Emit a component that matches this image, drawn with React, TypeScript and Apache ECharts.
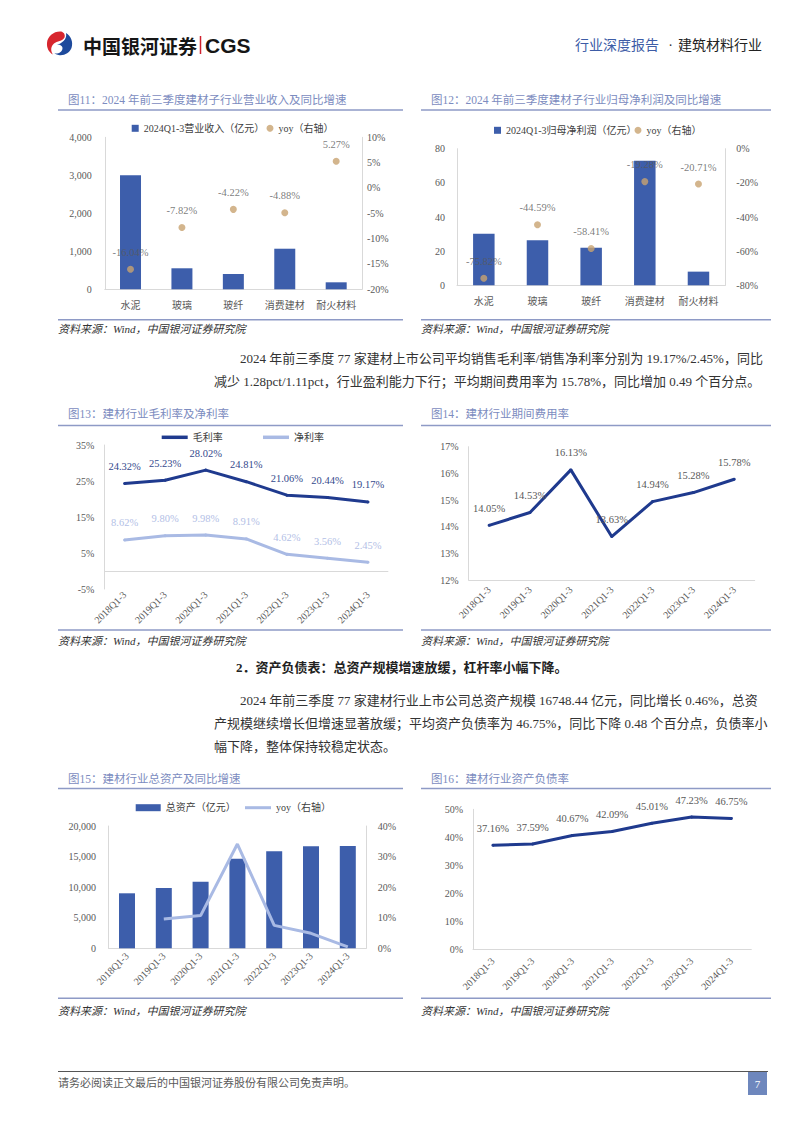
import React, { useEffect, useRef } from 'react';
import * as echarts from 'echarts';

// ---------------- data ----------------
const subIndustries = ['水泥', '玻璃', '玻纤', '消费建材', '耐火材料'];
const revenue = [3000, 553, 403, 1068, 184];
const revenueYoy = [-16.04, -7.82, -4.22, -4.88, 5.27];
const netProfit = [30.2, 26.4, 22.0, 73.0, 8.0];
const netProfitYoy = [-75.82, -44.59, -58.41, -19.28, -20.71];

const periods = ['2018Q1-3', '2019Q1-3', '2020Q1-3', '2021Q1-3', '2022Q1-3', '2023Q1-3', '2024Q1-3'];
const grossMargin = [24.32, 25.23, 28.02, 24.81, 21.06, 20.44, 19.17];
const netMargin = [8.62, 9.8, 9.98, 8.91, 4.62, 3.56, 2.45];
const expenseRatio = [14.05, 14.53, 16.13, 13.63, 14.94, 15.28, 15.78];
const totalAssets = [8994, 9861, 10891, 14652, 15863, 16672, 16748.44];
const totalAssetsYoy = [null, 9.6, 10.7, 34.1, 7.5, 4.9, 0.46];
const debtRatio = [37.16, 37.59, 40.67, 42.09, 45.01, 47.23, 46.75];

const legendText: Record<string, string> = {
  c11rev: '2024Q1-3营业收入（亿元）',
  c11yoy: 'yoy（右轴）',
  c12np: '2024Q1-3归母净利润（亿元）',
  c12yoy: 'yoy（右轴）',
  gm: '毛利率',
  nm: '净利率',
  c15assets: '总资产（亿元）',
  c15yoy: 'yoy（右轴）',
};

const chartTitles = [
  '图11：2024 年前三季度建材子行业营业收入及同比增速',
  '图12：2024 年前三季度建材子行业归母净利润及同比增速',
  '图13：建材行业毛利率及净利率',
  '图14：建材行业期间费用率',
  '图15：建材行业总资产及同比增速',
  '图16：建材行业资产负债率',
];
const sourceText = '资料来源：Wind，中国银河证券研究院';

const para1 = [
  '2024 年前三季度 77 家建材上市公司平均销售毛利率/销售净利率分别为 19.17%/2.45%，同比',
  '减少 1.28pct/1.11pct，行业盈利能力下行；平均期间费用率为 15.78%，同比增加 0.49 个百分点。',
];
const heading2 = '2．资产负债表：总资产规模增速放缓，杠杆率小幅下降。';
const para2 = [
  '2024 年前三季度 77 家建材行业上市公司总资产规模 16748.44 亿元，同比增长 0.46%，总资',
  '产规模继续增长但增速显著放缓；平均资产负债率为 46.75%，同比下降 0.48 个百分点，负债率小',
  '幅下降，整体保持较稳定状态。',
];

// ---------------- styles ----------------
const FONT = "'Liberation Serif','Noto Sans CJK SC',serif";
const SANS = "'Noto Sans CJK SC','Liberation Sans',sans-serif";
const BAR = '#3D5EAB';
const NAVY = '#1F3A8E';
const LIGHT = '#A9BAE4';
const GOLD = '#C8A370';
const AXIS = '#D9D9D9';
const LBL = '#595959';
const TITLE = '#7C8CC0';
const RULE = '#8E9AC6';

const LOGO_RED = 'M15 0.5 C8 0 1.5 5 1 12 C0.6 17 3 21.5 7 23.5 C4.5 20 4.5 15.5 8 12.5 C11 10 16.5 10.5 18.5 6.5 C19.5 4 18 1.2 15 0.5 Z';
const LOGO_BLUE = 'M20 2 C25 5 27.5 11 25.5 17 C23.5 22 18 25 12.5 24 C10 23.6 8.5 22.5 8.5 22.5 C13 23 16.5 20.5 16.5 17 C16.5 14 12.5 13.5 11 13.8 C15 12.5 21.5 9 20 2 Z';
echarts.graphic.registerShape('logoRed', echarts.graphic.extendPath(LOGO_RED, {}));
echarts.graphic.registerShape('logoBlue', echarts.graphic.extendPath(LOGO_BLUE, {}));

const T = (x: number, y: number, text: string, o: any = {}) => ({
  type: 'text',
  x,
  y,
  silent: true,
  style: {
    text,
    fill: o.fill ?? '#333',
    fontSize: o.size ?? 13,
    fontFamily: o.family ?? FONT,
    fontWeight: o.weight ?? 'normal',
    fontStyle: o.italic ? 'italic' : 'normal',
    align: o.align ?? 'left',
    textAlign: o.align ?? 'left',
    verticalAlign: 'middle',
    textVerticalAlign: 'middle',
  },
});
const Ln = (x1: number, y1: number, x2: number, y2: number, stroke: string, w: number) => ({
  type: 'line',
  silent: true,
  shape: { x1, y1, x2, y2 },
  style: { stroke, lineWidth: w },
});

const pct = (p: any) => Number(p.value).toFixed(2) + '%';
const thousands = (v: number) => v.toLocaleString('en-US');

const catAxis = (gridIndex: number, data: string[], extra: any = {}) => ({
  type: 'category',
  gridIndex,
  data,
  axisTick: { show: false },
  axisLine: { show: true, onZero: false, lineStyle: { color: AXIS, width: 1 } },
  axisLabel: { color: LBL, fontSize: 10, fontFamily: FONT, margin: 11, interval: 0, ...(extra.label || {}) },
  ...(extra.axis || {}),
});
const valAxis = (gridIndex: number, min: number, max: number, interval: number, formatter: any, position: string, margin: number) => ({
  type: 'value',
  gridIndex,
  min,
  max,
  interval,
  position,
  splitLine: { show: false },
  axisTick: { show: false },
  axisLine: { show: true, lineStyle: { color: AXIS, width: 1 } },
  axisLabel: { color: LBL, fontSize: 10, fontFamily: FONT, margin, formatter },
});

const dataLabel = (color: string, distance: number) => ({
  show: true,
  position: 'top',
  distance,
  formatter: pct,
  color,
  fontSize: 10.5,
  fontFamily: FONT,
  lineHeight: 12,
});

const legendBase = {
  padding: 0,
  selectedMode: false,
  formatter: (n: string) => legendText[n],
  itemGap: 0,
  itemStyle: { borderWidth: 0 },
  textStyle: { fontSize: 10, color: '#404040', fontFamily: FONT, lineHeight: 14 },
};

function buildGraphics() {
  const g: any[] = [];
  // header
  g.push({ type: 'logoRed', x: 46, y: 31, scaleX: 1, scaleY: 1, silent: true, style: { fill: '#D7262E' } });
  g.push({ type: 'logoBlue', x: 46, y: 31, scaleX: 1, scaleY: 1, silent: true, style: { fill: '#1E4A9C' } });
  g.push(T(83, 45, '中国银河证券', { size: 19, weight: 'bold', family: SANS, fill: '#161616' }));
  g.push(Ln(200.5, 36, 200.5, 54, '#D0212E', 1.5));
  g.push(T(205, 45, 'CGS', { size: 21, weight: 'bold', family: "'Liberation Sans',Arial,sans-serif", fill: '#161616' }));
  g.push(T(575, 45, '行业深度报告', { size: 14, fill: '#3D5CA6' }));
  g.push(T(670.5, 45, '·', { size: 14, fill: '#333', align: 'center' }));
  g.push(T(678, 45, '建筑材料行业', { size: 14, fill: '#222' }));

  // chart frames
  const cols = [
    { x0: 58, x1: 403, tx: 68 },
    { x0: 421, x1: 771, tx: 431 },
  ];
  const rows = [
    { title: 100, rule: 110, foot: 319.7, src: 328.7 },
    { title: 414.3, rule: 425.5, foot: 630, src: 640.7 },
    { title: 779, rule: 788.5, foot: 998.3, src: 1011 },
  ];
  rows.forEach((r, ri) => {
    cols.forEach((c, ci) => {
      g.push(T(c.tx, r.title, chartTitles[ri * 2 + ci], { size: 11.5, fill: TITLE }));
      g.push(Ln(c.x0, r.rule, c.x1, r.rule, RULE, 1.5));
      g.push(Ln(c.x0, r.foot, c.x1, r.foot, RULE, 1.5));
      g.push(T(c.x0, r.src, sourceText, { size: 11, italic: true, fill: '#333' }));
    });
  });

  // body text
  g.push(T(240, 358, para1[0], { size: 13, fill: '#333' }));
  g.push(T(214, 381, para1[1], { size: 13, fill: '#333' }));
  g.push(T(236, 667, heading2, { size: 13, weight: 'bold', fill: '#222' }));
  g.push(T(240, 700, para2[0], { size: 13, fill: '#333' }));
  g.push(T(214, 723, para2[1], { size: 13, fill: '#333' }));
  g.push(T(214, 746, para2[2], { size: 13, fill: '#333' }));

  // page footer
  g.push(Ln(58, 1071.5, 768, 1071.5, '#555', 1));
  g.push(T(58, 1083, '请务必阅读正文最后的中国银河证券股份有限公司免责声明。', { size: 11, fill: '#595959' }));
  g.push({ type: 'rect', silent: true, shape: { x: 748, y: 1072, width: 19, height: 23 }, style: { fill: '#6E87BD' } });
  g.push(T(757.5, 1083.5, '7', { size: 11, fill: '#fff', align: 'center' }));
  return g;
}

const option: any = {
  animation: false,
  backgroundColor: '#fff',
  textStyle: { fontFamily: FONT },
  grid: [
    { left: 104.8, top: 137.3, width: 257.1, height: 152, outerBoundsMode: 'none' },
    { left: 457, top: 148.7, width: 268.3, height: 136.6, outerBoundsMode: 'none' },
    { left: 104.3, top: 445, width: 284, height: 144, outerBoundsMode: 'none' },
    { left: 468.7, top: 446.7, width: 286, height: 133.3, outerBoundsMode: 'none' },
    { left: 108.6, top: 826, width: 257.6, height: 122.3, outerBoundsMode: 'none' },
    { left: 473, top: 809.3, width: 278.3, height: 140, outerBoundsMode: 'none' },
  ],
  xAxis: [
    catAxis(0, subIndustries),
    catAxis(1, subIndustries),
    catAxis(2, periods, { axis: { axisLine: { show: false } }, label: { rotate: 45, margin: 4 } }),
    catAxis(3, periods, { label: { rotate: 45, margin: 8 } }),
    catAxis(4, periods, { label: { rotate: 45, margin: 6 } }),
    catAxis(5, periods, { label: { rotate: 45, margin: 10 } }),
  ],
  yAxis: [
    valAxis(0, 0, 4000, 1000, thousands, 'left', 13),
    valAxis(0, -20, 10, 5, '{value}%', 'right', 5),
    valAxis(1, 0, 80, 20, '{value}', 'left', 12),
    valAxis(1, -80, 0, 20, '{value}%', 'right', 11),
    valAxis(2, -5, 35, 10, '{value}%', 'left', 10),
    valAxis(3, 12, 17, 1, '{value}%', 'left', 10),
    valAxis(4, 0, 20000, 5000, thousands, 'left', 12.6),
    valAxis(4, 0, 40, 10, '{value}%', 'right', 11.5),
    valAxis(5, 0, 50, 10, '{value}%', 'left', 10),
  ],
  legend: [
    { ...legendBase, data: ['c11rev'], left: 131.7, top: 121.3, icon: 'rect', itemWidth: 7, itemHeight: 7 },
    { ...legendBase, data: ['c11yoy'], left: 266.5, top: 121.3, icon: 'circle', itemWidth: 7, itemHeight: 7 },
    { ...legendBase, data: ['c12np'], left: 494, top: 123.3, icon: 'rect', itemWidth: 7, itemHeight: 7 },
    { ...legendBase, data: ['c12yoy'], left: 634.5, top: 123.3, icon: 'circle', itemWidth: 7, itemHeight: 7 },
    { ...legendBase, data: ['gm'], left: 161.7, top: 430.3, icon: 'rect', itemWidth: 26, itemHeight: 3.5 },
    { ...legendBase, data: ['nm'], left: 263, top: 430.3, icon: 'rect', itemWidth: 26, itemHeight: 3.5 },
    { ...legendBase, data: ['c15assets'], left: 135.7, top: 800.7, icon: 'rect', itemWidth: 25, itemHeight: 7 },
    { ...legendBase, data: ['c15yoy'], left: 245, top: 800.7, icon: 'rect', itemWidth: 26, itemHeight: 3 },
  ],
  series: [
    { type: 'bar', name: 'c11rev', xAxisIndex: 0, yAxisIndex: 0, data: revenue, barWidth: 21, itemStyle: { color: BAR } },
    {
      type: 'scatter', name: 'c11yoy', xAxisIndex: 0, yAxisIndex: 1, data: revenueYoy, symbolSize: 7, z: 3,
      itemStyle: { color: GOLD }, label: dataLabel(LBL, 7.5),
    },
    { type: 'bar', name: 'c12np', xAxisIndex: 1, yAxisIndex: 2, data: netProfit, barWidth: 21.5, itemStyle: { color: BAR } },
    {
      type: 'scatter', name: 'c12yoy', xAxisIndex: 1, yAxisIndex: 3, data: netProfitYoy, symbolSize: 7, z: 3,
      itemStyle: { color: GOLD }, label: dataLabel(LBL, 7.5),
    },
    {
      type: 'line', name: 'gm', xAxisIndex: 2, yAxisIndex: 4, data: grossMargin, symbol: 'circle', symbolSize: 3,
      lineStyle: { color: NAVY, width: 3 }, itemStyle: { color: NAVY }, label: dataLabel('#34498C', 9.5),
      markLine: {
        silent: true, symbol: 'none', label: { show: false },
        lineStyle: { color: AXIS, type: 'solid', width: 1 },
        data: [{ yAxis: 0 }],
      },
    },
    {
      type: 'line', name: 'nm', xAxisIndex: 2, yAxisIndex: 4, data: netMargin, symbol: 'circle', symbolSize: 3,
      lineStyle: { color: LIGHT, width: 3 }, itemStyle: { color: LIGHT }, label: dataLabel('#B3C0E6', 9.5),
    },
    {
      type: 'line', name: 'fee', xAxisIndex: 3, yAxisIndex: 5, data: expenseRatio, symbol: 'circle', symbolSize: 3,
      lineStyle: { color: NAVY, width: 3 }, itemStyle: { color: NAVY }, label: dataLabel(LBL, 9.5),
    },
    { type: 'bar', name: 'c15assets', xAxisIndex: 4, yAxisIndex: 6, data: totalAssets, barWidth: 16, itemStyle: { color: BAR } },
    {
      type: 'line', name: 'c15yoy', xAxisIndex: 4, yAxisIndex: 7, data: totalAssetsYoy, symbol: 'none', z: 3,
      lineStyle: { color: LIGHT, width: 3 }, itemStyle: { color: LIGHT },
    },
    {
      type: 'line', name: 'debt', xAxisIndex: 5, yAxisIndex: 8, data: debtRatio, symbol: 'circle', symbolSize: 3,
      lineStyle: { color: NAVY, width: 3 }, itemStyle: { color: NAVY }, label: dataLabel(LBL, 9.5),
    },
  ],
  graphic: { elements: buildGraphics() },
};

export default function App() {
  const ref = useRef<HTMLDivElement>(null);
  useEffect(() => {
    if (!ref.current) return;
    const chart = echarts.init(ref.current, null, { renderer: 'svg', width: 802, height: 1133 });
    chart.setOption(option);
    return () => chart.dispose();
  }, []);
  return (
    <div
      ref={ref}
      style={{ position: 'absolute', left: 0, top: 0, width: 802, height: 1133, background: '#fff' }}
    />
  );
}
